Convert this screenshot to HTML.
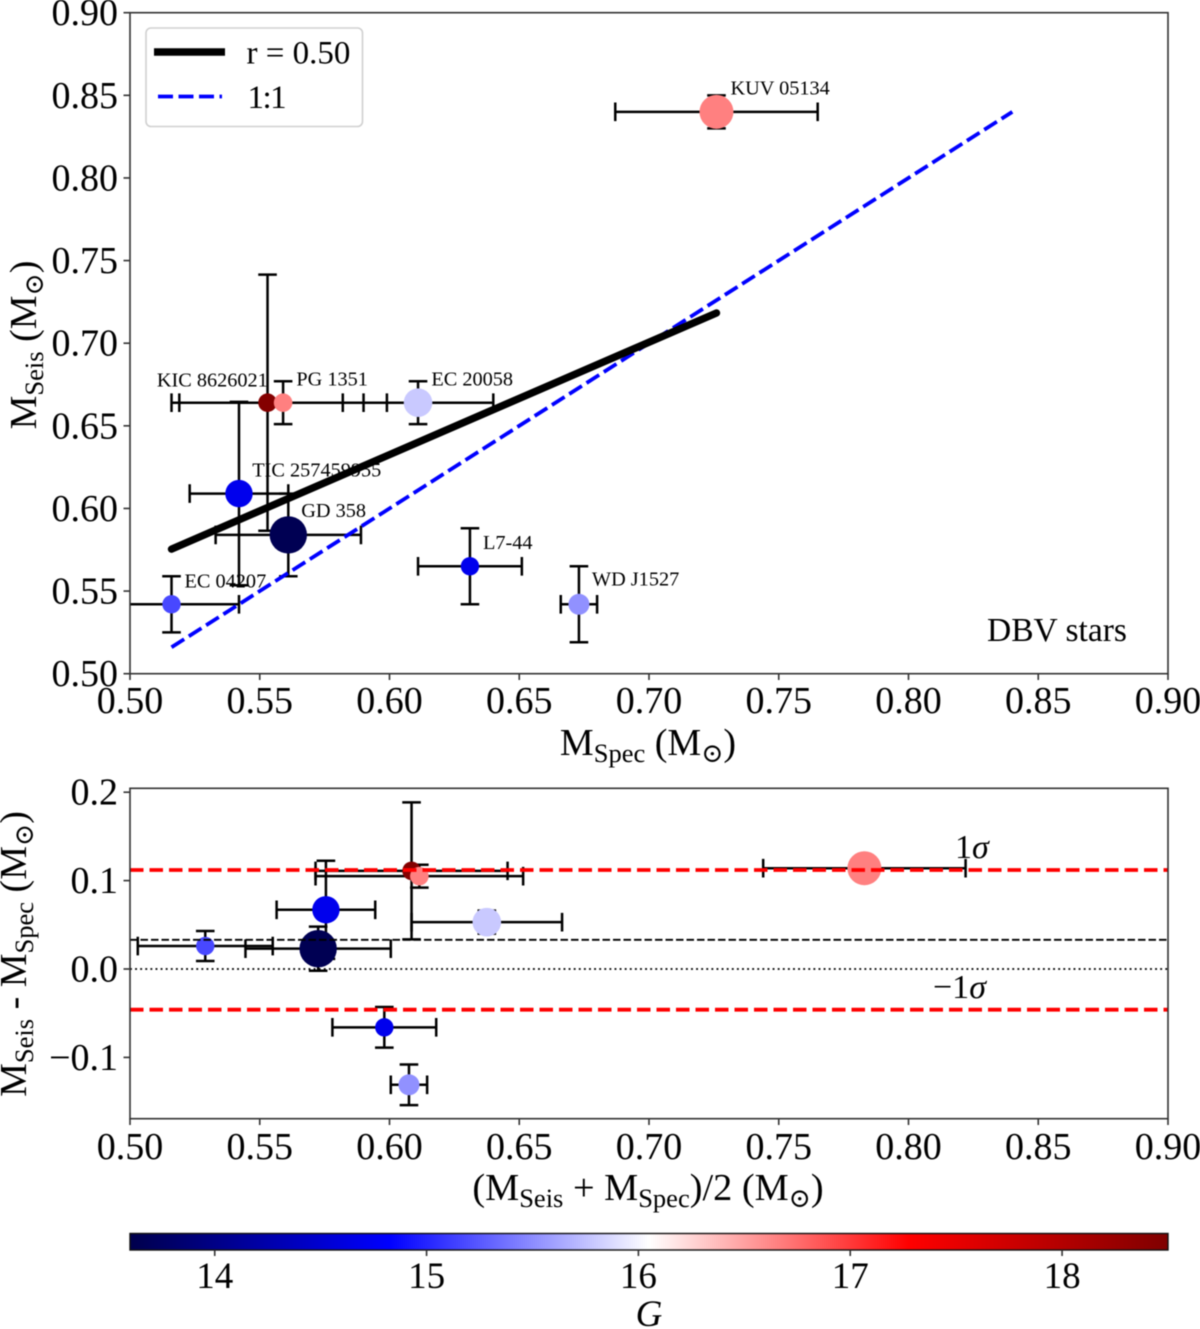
<!DOCTYPE html>
<html lang="en">
<head>
<meta charset="utf-8">
<title>Seismic versus spectroscopic masses of DBV stars</title>
<style>
html,body{margin:0;padding:0;background:#fff;width:1200px;height:1329px;overflow:hidden}
svg{display:block;filter:blur(0.45px)}
text{font-family:"Liberation Serif","DejaVu Serif",serif;fill:#000}
.sub{font-size:26.5px}
</style>
</head>
<body>
<svg id="figure" width="1200" height="1329" viewBox="0 0 1200 1329" xmlns="http://www.w3.org/2000/svg">
  <defs>
    <clipPath id="clip-top"><rect x="130" y="12.7" width="1038" height="661"/></clipPath>
    <clipPath id="clip-bottom"><rect x="130" y="788.3" width="1038" height="330.4"/></clipPath>
    <linearGradient id="seismic-gradient" x1="0" x2="1" y1="0" y2="0">
      <stop offset="0" stop-color="#00004c"/>
      <stop offset="0.25" stop-color="#0000ff"/>
      <stop offset="0.5" stop-color="#ffffff"/>
      <stop offset="0.75" stop-color="#ff0000"/>
      <stop offset="1" stop-color="#7f0000"/>
    </linearGradient>
  </defs>
  <rect x="0" y="0" width="1200" height="1329" fill="#fff"/>

  <g id="top-labels" clip-path="url(#clip-top)"></g>
  <g id="top-errors" clip-path="url(#clip-top)"></g>
  <g id="top-points" clip-path="url(#clip-top)"></g>
  <g id="top-lines" clip-path="url(#clip-top)"></g>
  <rect x="130" y="12.7" width="1038" height="661" fill="none" stroke="#333" stroke-width="1.6"/>
  <g id="top-ticks"></g>

  <text x="648" y="755" font-size="38" text-anchor="middle">M<tspan class="sub" dy="7">Spec</tspan><tspan dy="-7"> (M</tspan><tspan class="sub" dy="7">⊙</tspan><tspan dy="-7">)</tspan></text>
  <text transform="translate(36,345) rotate(-90)" font-size="38" text-anchor="middle">M<tspan class="sub" dy="7">Seis</tspan><tspan dy="-7"> (M</tspan><tspan class="sub" dy="7">⊙</tspan><tspan dy="-7">)</tspan></text>

  <g>
    <rect x="146" y="28" width="216.5" height="98.5" rx="5" fill="#fff" fill-opacity="0.9" stroke="#d0d0d0" stroke-width="1.6"/>
    <line x1="154" x2="225" y1="52" y2="52" stroke="#000" stroke-width="7.4"/>
    <text x="246.5" y="63.5" font-size="33">r = 0.50</text>
    <line x1="158" x2="222" y1="96.5" y2="96.5" stroke="#0000ff" stroke-width="3.8" stroke-dasharray="15 5.5"/>
    <text x="247.5" y="108" font-size="33" letter-spacing="-1.5">1:1</text>
  </g>
  <text x="987" y="641" font-size="33.5">DBV stars</text>

  <g id="bottom-errors" clip-path="url(#clip-bottom)"></g>
  <g id="bottom-points" clip-path="url(#clip-bottom)"></g>
  <g id="bottom-lines" clip-path="url(#clip-bottom)"></g>
  <rect x="130" y="788.3" width="1038" height="330.4" fill="none" stroke="#333" stroke-width="1.6"/>
  <g id="bottom-ticks"></g>

  <text x="955" y="858" font-size="34">1<tspan font-style="italic">σ</tspan></text>
  <text x="933" y="998" font-size="34">−1<tspan font-style="italic">σ</tspan></text>

  <text x="648" y="1200" font-size="38.3" text-anchor="middle">(M<tspan class="sub" dy="7">Seis</tspan><tspan dy="-7"> + M</tspan><tspan class="sub" dy="7">Spec</tspan><tspan dy="-7">)/2 (M</tspan><tspan class="sub" dy="7">⊙</tspan><tspan dy="-7">)</tspan></text>
  <text transform="translate(26,954) rotate(-90)" font-size="38" text-anchor="middle">M<tspan class="sub" dy="7">Seis</tspan><tspan dy="-7"> - M</tspan><tspan class="sub" dy="7">Spec</tspan><tspan dy="-7"> (M</tspan><tspan class="sub" dy="7">⊙</tspan><tspan dy="-7">)</tspan></text>

  <rect x="130" y="1233.5" width="1038" height="16.5" fill="url(#seismic-gradient)" stroke="#111" stroke-width="1.4"/>
  <g id="colorbar-ticks"></g>
  <text x="649" y="1326" font-size="37" font-style="italic" text-anchor="middle">G</text>
</svg>

<script>
// ---- Chart data ----
const starNames = ["KUV 05134", "KIC 8626021", "PG 1351", "EC 20058", "TIC 257459955", "GD 358", "EC 04207", "L7-44", "WD J1527"];
const massSpec = [0.726, 0.553, 0.559, 0.611, 0.542, 0.561, 0.516, 0.631, 0.673];
const massSeis = [0.840, 0.664, 0.664, 0.664, 0.609, 0.584, 0.542, 0.565, 0.542];
const errSpec = [0.039, 0.037, 0.040, 0.029, 0.019, 0.028, 0.026, 0.020, 0.007];
const errSeis = [0.010, 0.0775, 0.013, 0.013, 0.0555, 0.025, 0.017, 0.023, 0.023];
const gMagnitude = [16.66, 18.45, 16.66, 15.79, 14.70, 13.65, 15.17, 14.70, 15.52];

const regressionX = [0.516, 0.726];
const regressionY = [0.5754, 0.7183];
const identityRange = [0.516, 0.84];
const sigmaLevels = [0.112, -0.046];
const meanOffset = [0.033];
const zeroLevel = [0.0];

const massTicks = [0.50, 0.55, 0.60, 0.65, 0.70, 0.75, 0.80, 0.85, 0.90];
const massTickLabels = ["0.50", "0.55", "0.60", "0.65", "0.70", "0.75", "0.80", "0.85", "0.90"];
const diffTicks = [0.2, 0.1, 0.0, -0.1];
const diffTickLabels = ["0.2", "0.1", "0.0", "−0.1"];
const gTicks = [14, 15, 16, 17, 18];
const gTickLabels = ["14", "15", "16", "17", "18"];
const gRange = [13.6, 18.5];

// ---- Styling (not data) ----
const markerRadii = [17, 9.3, 9.3, 14.3, 13.7, 18.7, 9.2, 9.2, 10.5];
const labelShiftX = [14, -110.7, 13.3, 13.3, 13.3, 13, 13, 13, 13];
const labelShiftY = [-17.5, -16, -17, -17, -17, -18, -17, -17.5, -19];

// ---- Axis functions ----
function xScale(v) { return 130 + (v - 0.5) * 2595; }
function yTop(v) { return 673.7 - (v - 0.5) * 1652.5; }
function yBottom(v) { return 969 - v * 884; }
function gScale(v) { return 130 + (v - gRange[0]) / (gRange[1] - gRange[0]) * 1038; }

function seismic(g) {
  const t = Math.max(0, Math.min(1, (g - gRange[0]) / (gRange[1] - gRange[0])));
  const stops = [[0, 0, 76], [0, 0, 255], [255, 255, 255], [255, 0, 0], [127, 0, 0]];
  const p = t * 4;
  const i = Math.min(3, Math.floor(p));
  const f = p - i;
  const c = stops[i].map(function (a, k) { return Math.round(a + (stops[i + 1][k] - a) * f); });
  return "rgb(" + c.join(",") + ")";
}

const NS = "http://www.w3.org/2000/svg";
function drawLine(parent, name, x1, y1, x2, y2, stroke, width, dash, cap) {
  const el = document.createElementNS(NS, "line");
  
  
  el.setAttribute("x1", x1);
  el.setAttribute("y1", y1);
  el.setAttribute("x2", x2);
  el.setAttribute("y2", y2);
  el.setAttribute("stroke", stroke);
  el.setAttribute("stroke-width", width);
  if (dash) el.setAttribute("stroke-dasharray", dash);
  if (cap) el.setAttribute("stroke-linecap", cap);
  parent.appendChild(el);
  return el;
}
function drawText(parent, name, x, y, content, size, anchor) {
  const el = document.createElementNS(NS, "text");
  
  
  el.setAttribute("x", x);
  el.setAttribute("y", y);
  el.setAttribute("font-size", size);
  el.setAttribute("text-anchor", anchor);
  el.textContent = content;
  parent.appendChild(el);
  return el;
}
function drawPoint(parent, name, cx, cy, r, fill) {
  const el = document.createElementNS(NS, "circle");
  
  
  el.setAttribute("cx", cx);
  el.setAttribute("cy", cy);
  el.setAttribute("r", r);
  el.setAttribute("fill", fill);
  parent.appendChild(el);
  return el;
}
function drawErrorBar(parent, slug, cx, cy, left, right, top, bottom) {
  const w = 2.5;
  const cap = 9.3;
  drawLine(parent, slug + "-x-error", left, cy, right, cy, "#000", w);
  drawLine(parent, slug + "-x-cap-low", left, cy - cap, left, cy + cap, "#000", w);
  drawLine(parent, slug + "-x-cap-high", right, cy - cap, right, cy + cap, "#000", w);
  drawLine(parent, slug + "-y-error", cx, top, cx, bottom, "#000", w);
  drawLine(parent, slug + "-y-cap-high", cx - cap, top, cx + cap, top, "#000", w);
  drawLine(parent, slug + "-y-cap-low", cx - cap, bottom, cx + cap, bottom, "#000", w);
}
function slugOf(name) { return name.toLowerCase().replace(/[^a-z0-9]+/g, "-"); }

const g = function (id) { return document.getElementById(id); };

// ---- Top panel ----
starNames.forEach(function (name, i) {
  const slug = slugOf(name);
  const cx = xScale(massSpec[i]);
  const cy = yTop(massSeis[i]);
  drawText(g("top-labels"), "label-" + slug, cx + labelShiftX[i], cy + labelShiftY[i], name, 20.3, "start");
  drawErrorBar(g("top-errors"), "top-" + slug, cx, cy,
    xScale(massSpec[i] - errSpec[i]), xScale(massSpec[i] + errSpec[i]),
    yTop(massSeis[i] + errSeis[i]), yTop(massSeis[i] - errSeis[i]));
});
starNames.forEach(function (name, i) {
  drawPoint(g("top-points"), "top-point-" + slugOf(name), xScale(massSpec[i]), yTop(massSeis[i]), markerRadii[i], seismic(gMagnitude[i]));
});
drawLine(g("top-lines"), "one-to-one-line",
  xScale(identityRange[0]), yTop(identityRange[0]), xScale(identityRange[1]), yTop(identityRange[1]),
  "#0000ff", 3.8, "15 5.5");
drawLine(g("top-lines"), "regression-line",
  xScale(regressionX[0]), yTop(regressionY[0]), xScale(regressionX[1]), yTop(regressionY[1]),
  "#000", 7.4, null, "round");

massTicks.forEach(function (v, i) {
  drawLine(g("top-ticks"), "top-x-tick", xScale(v), 673.7, xScale(v), 680, "#333", 1.6);
  drawText(g("top-ticks"), "top-x-tick-label", xScale(v), 713, massTickLabels[i], 38, "middle");
  drawLine(g("top-ticks"), "top-y-tick", 123.5, yTop(v), 130, yTop(v), "#333", 1.6);
  drawText(g("top-ticks"), "top-y-tick-label", 118, yTop(v) + 12.5, massTickLabels[i], 38, "end");
});

// ---- Bottom panel ----
starNames.forEach(function (name, i) {
  const slug = slugOf(name);
  const mean = (massSeis[i] + massSpec[i]) / 2;
  const diff = massSeis[i] - massSpec[i];
  drawErrorBar(g("bottom-errors"), "bottom-" + slug, xScale(mean), yBottom(diff),
    xScale(mean - errSpec[i]), xScale(mean + errSpec[i]),
    yBottom(diff + errSeis[i]), yBottom(diff - errSeis[i]));
});
starNames.forEach(function (name, i) {
  const mean = (massSeis[i] + massSpec[i]) / 2;
  const diff = massSeis[i] - massSpec[i];
  drawPoint(g("bottom-points"), "bottom-point-" + slugOf(name), xScale(mean), yBottom(diff), markerRadii[i], seismic(gMagnitude[i]));
});
sigmaLevels.forEach(function (v) {
  drawLine(g("bottom-lines"), "sigma-line", 130, yBottom(v), 1168, yBottom(v), "#ff0000", 3.8, "13.5 6");
});
meanOffset.forEach(function (v) {
  drawLine(g("bottom-lines"), "mean-offset-line", 130, yBottom(v), 1168, yBottom(v), "#000", 1.9, "7.5 3");
});
zeroLevel.forEach(function (v) {
  drawLine(g("bottom-lines"), "zero-line", 130, yBottom(v), 1168, yBottom(v), "#000", 1.8, "1.9 3.2");
});

massTicks.forEach(function (v, i) {
  drawLine(g("bottom-ticks"), "bottom-x-tick", xScale(v), 1118.7, xScale(v), 1125, "#333", 1.6);
  drawText(g("bottom-ticks"), "bottom-x-tick-label", xScale(v), 1159, massTickLabels[i], 38, "middle");
});
diffTicks.forEach(function (v, i) {
  drawLine(g("bottom-ticks"), "bottom-y-tick", 123.5, yBottom(v), 130, yBottom(v), "#333", 1.6);
  drawText(g("bottom-ticks"), "bottom-y-tick-label", 118, yBottom(v) + 12.5, diffTickLabels[i], 38, "end");
});

// ---- Colorbar ----
gTicks.forEach(function (v, i) {
  drawLine(g("colorbar-ticks"), "colorbar-tick", gScale(v), 1250, gScale(v), 1256, "#333", 1.6);
  drawText(g("colorbar-ticks"), "colorbar-tick-label", gScale(v), 1288, gTickLabels[i], 37, "middle");
});
</script>
</body>
</html>
